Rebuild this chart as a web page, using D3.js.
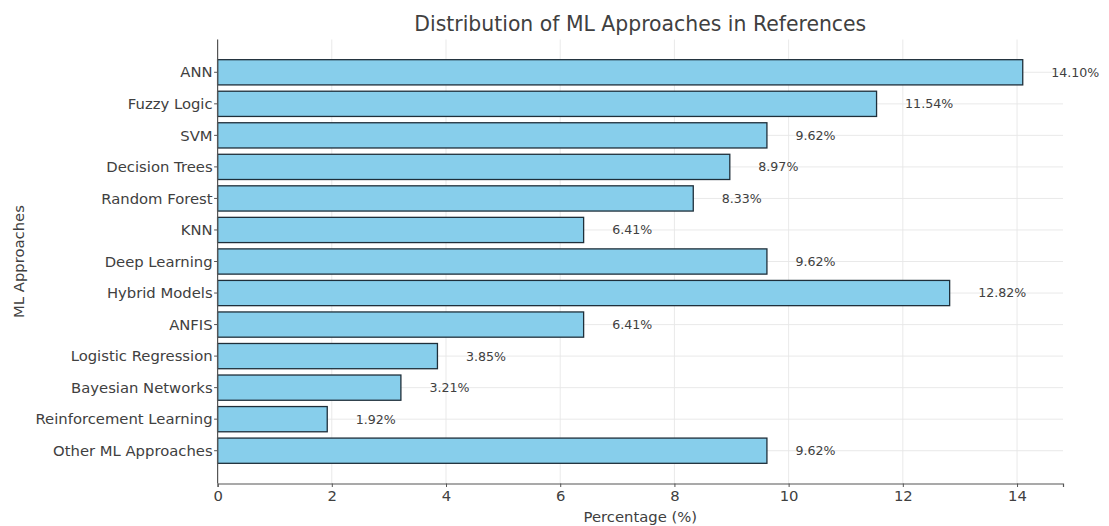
<!DOCTYPE html>
<html>
<head>
<meta charset="utf-8">
<script src="https://cdn.jsdelivr.net/npm/d3@7"></script>
<style>
  html, body { margin: 0; padding: 0; background: #fff; }
  svg { display: block; font-family: "DejaVu Sans", sans-serif; }
</style>
</head>
<body>
<svg id="chart" width="1109" height="526"></svg>
<script>
// Share of references using each machine learning approach (%)
const approaches = [
  "ANN", "Fuzzy Logic", "SVM", "Decision Trees", "Random Forest", "KNN",
  "Deep Learning", "Hybrid Models", "ANFIS", "Logistic Regression",
  "Bayesian Networks", "Reinforcement Learning", "Other ML Approaches"
];
const percentages = [14.10, 11.54, 9.62, 8.97, 8.33, 6.41, 9.62, 12.82, 6.41, 3.85, 3.21, 1.92, 9.62];
const xTicks = [0, 2, 4, 6, 8, 10, 12, 14];

const svg = d3.select("#chart");
const plotLeft = 217.6, plotRight = 1063, plotTop = 39.5, plotBottom = 483.5;

// x domain padded 5% past the largest bar, like a default autoscaled axis
const xMax = d3.max(percentages) * 1.05;
const x = d3.scaleLinear().domain([0, xMax]).range([plotLeft, plotRight]);

// Category positions: bar slots of unit width with 0.8 bar height, padded top and bottom
const n = approaches.length;
const yPad = (n - 1 + 0.8) * 0.05;
const yLin = d3.scaleLinear().domain([-0.4 - yPad, n - 1 + 0.4 + yPad]).range([plotTop, plotBottom]);
const barH = yLin(0.8) - yLin(0);

const textColor = "#404040";
const gridColor = "#e6e6e6";
const tickFont = 14.8;

// Grid
svg.append("g").selectAll("line").data(xTicks).join("line")
  .attr("x1", d => x(d)).attr("x2", d => x(d))
  .attr("y1", plotTop).attr("y2", plotBottom)
  .attr("stroke", gridColor).attr("stroke-width", 0.9);
svg.append("g").selectAll("line").data(approaches).join("line")
  .attr("x1", plotLeft).attr("x2", plotRight)
  .attr("y1", (d, i) => yLin(i)).attr("y2", (d, i) => yLin(i))
  .attr("stroke", gridColor).attr("stroke-width", 0.9);

// Bars
svg.append("g").selectAll("rect").data(percentages).join("rect")
  .attr("x", x(0))
  .attr("y", (d, i) => yLin(i) - barH / 2)
  .attr("width", d => x(d) - x(0))
  .attr("height", barH)
  .attr("fill", "#87CEEB")
  .attr("stroke", "#1f2f3a")
  .attr("stroke-width", 1.3);

// Value labels
svg.append("g").selectAll("text").data(percentages).join("text")
  .attr("x", d => x(d + 0.5))
  .attr("y", (d, i) => yLin(i))
  .attr("dy", "0.35em")
  .attr("font-size", 12.6)
  .attr("fill", textColor)
  .text(d => d.toFixed(2) + "%");

// X axis
const xAxis = svg.append("g").attr("transform", `translate(0,${plotBottom})`)
  .call(d3.axisBottom(x).tickValues(xTicks).tickSize(3.5).tickPadding(3.5).tickFormat(d3.format("d")));
xAxis.select(".domain").attr("stroke", "#555").attr("stroke-width", 1.2);
xAxis.selectAll(".tick line").attr("stroke", "#555");
xAxis.selectAll("text").attr("font-size", tickFont).attr("fill", textColor).attr("font-family", "DejaVu Sans, sans-serif");

// Y axis
const yAxis = svg.append("g").attr("transform", `translate(${plotLeft},0)`);
yAxis.append("line").attr("x1", 0).attr("x2", 0).attr("y1", plotTop).attr("y2", plotBottom)
  .attr("stroke", "#555").attr("stroke-width", 1.2);
yAxis.append("g").selectAll("line").data(approaches).join("line")
  .attr("x1", -3.5).attr("x2", 0)
  .attr("y1", (d, i) => yLin(i)).attr("y2", (d, i) => yLin(i))
  .attr("stroke", "#555");
yAxis.append("g").selectAll("text").data(approaches).join("text")
  .attr("x", -5).attr("y", (d, i) => yLin(i)).attr("dy", "0.35em")
  .attr("text-anchor", "end").attr("font-size", tickFont).attr("fill", textColor)
  .text(d => d);

// Titles
svg.append("text").attr("x", (plotLeft + plotRight) / 2).attr("y", 31)
  .attr("text-anchor", "middle").attr("font-size", 20.4).attr("fill", textColor)
  .text("Distribution of ML Approaches in References");
svg.append("text").attr("x", (plotLeft + plotRight) / 2).attr("y", 522)
  .attr("text-anchor", "middle").attr("font-size", tickFont).attr("fill", textColor)
  .text("Percentage (%)");
svg.append("text")
  .attr("transform", `translate(24,${(plotTop + plotBottom) / 2}) rotate(-90)`)
  .attr("text-anchor", "middle").attr("font-size", tickFont).attr("fill", textColor)
  .text("ML Approaches");
</script>
</body>
</html>
